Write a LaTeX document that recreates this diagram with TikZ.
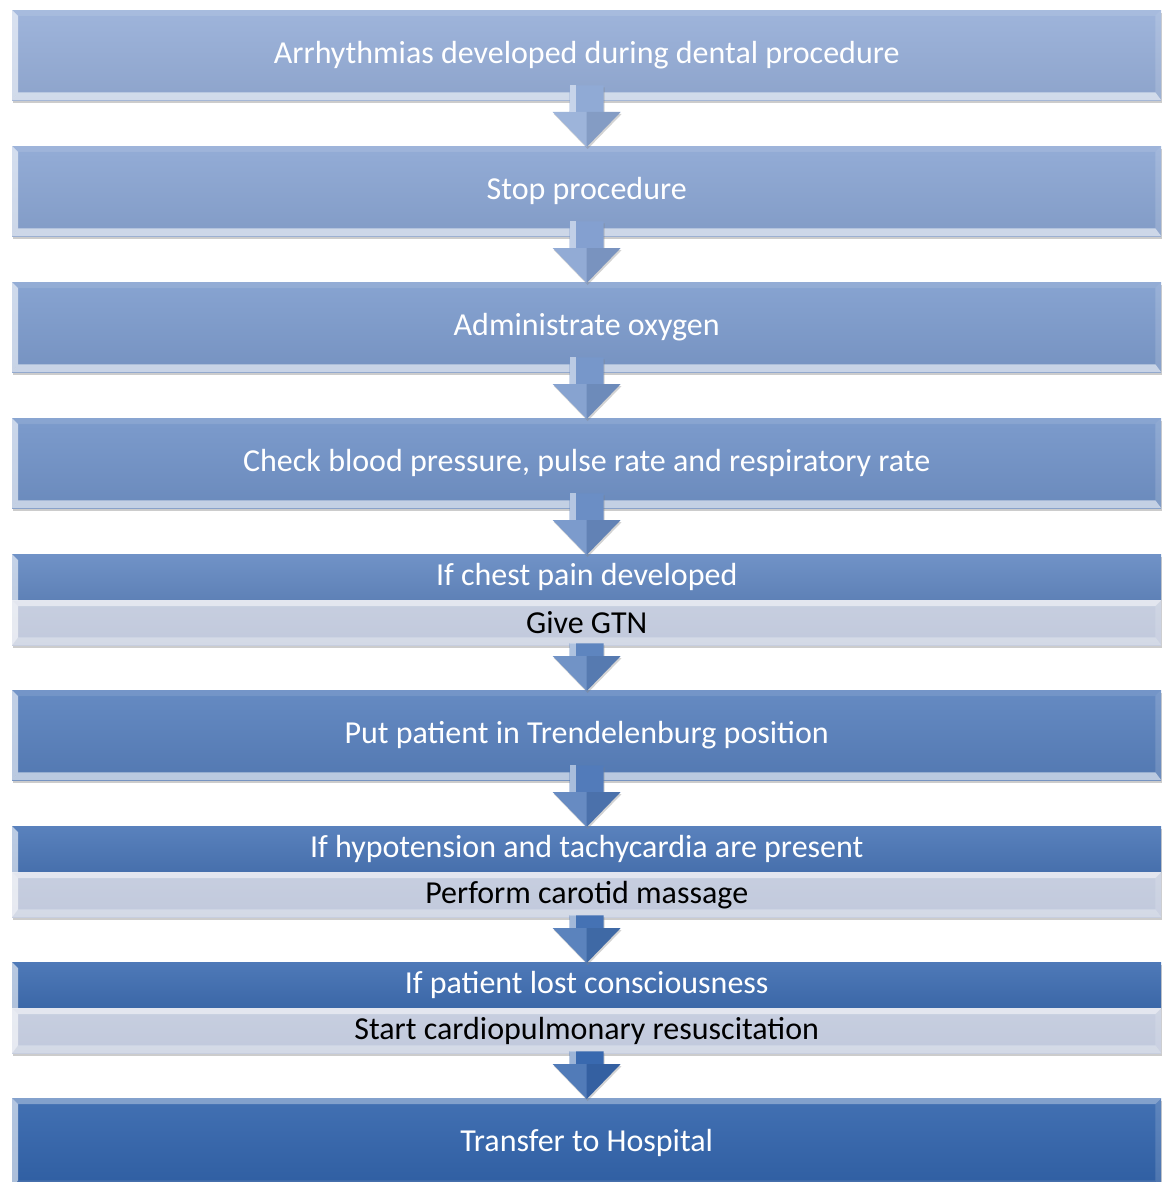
\documentclass[tikz,border=0pt]{standalone}
\usepackage{fontspec}
\setmainfont{Carlito}
\usetikzlibrary{calc,shadows}

\definecolor{paleblue}{RGB}{150,174,216}
\definecolor{deepblue}{RGB}{50,100,172}
\definecolor{subgray}{RGB}{193,201,220}
\colorlet{tone0}{deepblue!0!paleblue}
\colorlet{tone1}{deepblue!12!paleblue}
\colorlet{tone2}{deepblue!25!paleblue}
\colorlet{tone3}{deepblue!37!paleblue}
\colorlet{tone4}{deepblue!50!paleblue}
\colorlet{tone5}{deepblue!62!paleblue}
\colorlet{tone6}{deepblue!75!paleblue}
\colorlet{tone7}{deepblue!87!paleblue}
\colorlet{tone8}{deepblue!100!paleblue}

% bevel frame over a box: #1 node, #2 top opacity, #3 bottom opacity
\newcommand\bevelbox[3]{%
  \fill[white, opacity=0.6] (#1.north west) -- (#1.south west) -- ($(#1.south west)+(6,-8)$) -- ($(#1.north west)+(6,6)$) -- cycle;
  \fill[white, opacity=#3] (#1.south west) -- (#1.south east) -- ($(#1.south east)+(-6,-8)$) -- ($(#1.south west)+(6,-8)$) -- cycle;
  \fill[white, opacity=#2] (#1.north west) -- (#1.north east) -- ($(#1.north east)+(-6,6)$) -- ($(#1.north west)+(6,6)$) -- cycle;
  \fill[white, opacity=0.15] (#1.north east) -- (#1.south east) -- ($(#1.south east)+(-6,-8)$) -- ($(#1.north east)+(-6,6)$) -- cycle;
}
% block arrow from one box down to the next: [#1 overlap] #2 from, #3 to, #4 colour
\newcommand\blockarrow[4][15]{%
  \fill[#4, drop shadow={opacity=0.35, shadow xshift=1pt, shadow yshift=-2pt}]
    ($(#2.south)+(-17,-#1)$) -- ($(#3.north)+(-17,-34)$) -- ($(#3.north)+(-34,-34)$)
    -- ($(#3.north)+(0,1)$) -- ($(#3.north)+(34,-34)$) -- ($(#3.north)+(17,-34)$)
    -- ($(#2.south)+(17,-#1)$) -- cycle;
  \fill[white, opacity=0.5] ($(#2.south)+(-17,-#1)$) -- ($(#3.north)+(-17,-34)$) -- ($(#3.north)+(-11,-34)$) -- ($(#2.south)+(-11,-#1)$) -- cycle;
  \fill[white, opacity=0.12] ($(#3.north)+(-34,-34)$) -- ($(#3.north)+(0,1)$) -- ($(#3.north)+(0,-34)$) -- cycle;
  \fill[black, opacity=0.08] ($(#3.north)+(34,-34)$) -- ($(#3.north)+(0,1)$) -- ($(#3.north)+(0,-34)$) -- cycle;
}

\begin{document}
\begin{tikzpicture}[x=1pt, y=-1pt,
    stagebox/.style={minimum width=1149pt, minimum height=90pt, anchor=north west, inner sep=0pt,
      text=white, font=\fontsize{32}{36}\selectfont, top color=#1!92!white, bottom color=#1!94!black,
      drop shadow={opacity=0.4, shadow xshift=1pt, shadow yshift=-3pt}},
    condbox/.style={stagebox=#1, minimum height=46pt},
    actionbox/.style={stagebox=subgray, minimum height=45pt, text=black, top color=subgray!90!white, bottom color=subgray}
]
\useasboundingbox (0,0) rectangle (1161,1182);

% Steps
\node[stagebox=tone0] (onset) at (12,10) {Arrhythmias developed during dental procedure};
\node[stagebox=tone1] (stop) at (12,146) {Stop procedure};
\node[stagebox=tone2] (oxygen) at (12,282) {Administrate oxygen};
\node[stagebox=tone3] (vitals) at (12,418) {Check blood pressure, pulse rate and respiratory rate};
\node[condbox=tone4] (chest) at (12,554) {If chest pain developed};
\node[actionbox] (gtn) at (12,600) {Give GTN};
\node[stagebox=tone5] (trend) at (12,690) {Put patient in Trendelenburg position};
\node[condbox=tone6] (hypo) at (12,826) {If hypotension and tachycardia are present};
\node[actionbox] (carotid) at (12,872) {Perform carotid massage};
\node[condbox=tone7] (lost) at (12,962) {If patient lost consciousness};
\node[actionbox] (cpr) at (12,1008) {Start cardiopulmonary resuscitation};
\node[stagebox=tone8] (hospital) at (12,1098) {Transfer to Hospital};

% Bevels
\foreach \n in {onset,stop,oxygen,vitals,trend}{\bevelbox{\n}{0.1}{0.6}}
\foreach \n in {gtn,carotid,cpr}{\bevelbox{\n}{0.5}{0.3}}
\foreach \n in {chest,hypo,lost}{
  \fill[white, opacity=0.6] (\n.north west) -- (\n.south west) -- ($(\n.south west)+(6,0)$) -- ($(\n.north west)+(6,6)$) -- cycle;
}
\bevelbox{hospital}{0.35}{0.1}

% Arrows
\blockarrow{onset}{stop}{tone0!50!tone1}
\blockarrow{stop}{oxygen}{tone1!50!tone2}
\blockarrow{oxygen}{vitals}{tone2!50!tone3}
\blockarrow{vitals}{chest}{tone3!50!tone4}
\blockarrow[2]{gtn}{trend}{tone4!50!tone5}
\blockarrow{trend}{hypo}{tone5!50!tone6}
\blockarrow[2]{carotid}{lost}{tone6!50!tone7}
\blockarrow[2]{cpr}{hospital}{tone7!50!tone8}
\end{tikzpicture}
\end{document}
